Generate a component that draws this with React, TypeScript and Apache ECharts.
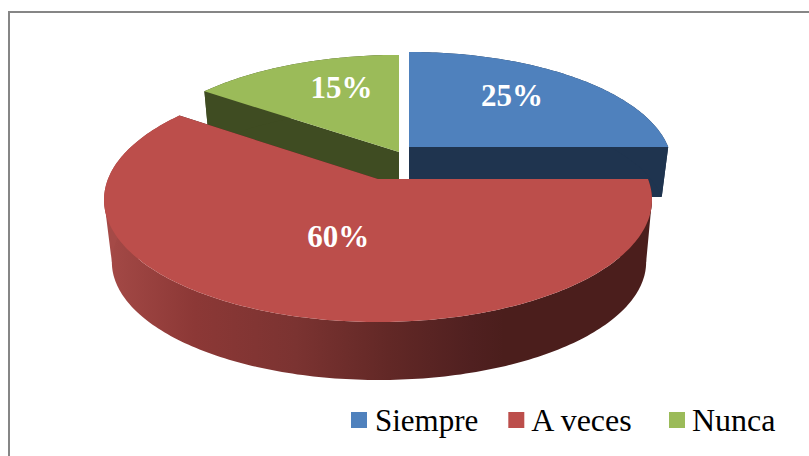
import React, { useEffect, useRef } from "react";
import * as echarts from "echarts";

const categories = ["Siempre", "A veces", "Nunca"];
const shares = [25, 60, 15];
const shareLabels = ["25%", "60%", "15%"];
const topColors = ["#4F81BD", "#BC4E4B", "#9BBB59"];
const wallColors = ["#1F344F", "#4B1E1C", "#3F4C22"];
const drawOrder = [0, 2, 1];

// Exploded-slice projection, indexed like categories.
const origins = [[409, 147], [378, 179], [399, 152]];
const scalesX = [0.96, 1, 0.98];
const scalesY = [0.937, 1, 0.957];
const depths = [50, 63, 50];
const bottomShift = [0, 1, 0];
const labelFractions = [[0.63, 0.73], [0.4, 0.43], [0.55, 0.73]];
const RX = 270, RY = 118.7, K = 0.17;

function project(deg: number, index: number) {
  const t = (deg * Math.PI) / 180;
  const X = Math.sin(t), Y = Math.cos(t);
  const s = 1 / (1 + K * Y);
  return [X * s * RX * scalesX[index], -Y * s * RY * scalesY[index]];
}

function renderSlice(index: number) {
  const total = shares.reduce((a, b) => a + b, 0);
  const before = shares.slice(0, index).reduce((a, b) => a + b, 0);
  const a0 = (before / total) * 360;
  const a1 = ((before + shares[index]) / total) * 360;
  const [ox, oy] = origins[index];
  const top = (p: number[]) => [ox + p[0], oy + p[1]];
  const bottom = (p: number[]) => [
    ox + bottomShift[index] + p[0] * 0.975,
    oy + depths[index] + p[1] * 0.965,
  ];

  const arc: number[][] = [];
  for (let a = a0; a < a1; a += 1) arc.push(project(a, index));
  arc.push(project(a1, index));

  const wallFill =
    index === 1
      ? new echarts.graphic.LinearGradient(0, 0, 1, 0, [
          { offset: 0, color: "#A54A47" },
          { offset: 0.165, color: "#8C3836" },
          { offset: 0.35, color: "#7B3331" },
          { offset: 0.52, color: "#622826" },
          { offset: 0.67, color: "#502020" },
          { offset: 0.73, color: "#4B1E1C" },
          { offset: 1, color: "#4B1E1C" },
        ])
      : wallColors[index];

  const quad = (p: number[]) => ({
    type: "polygon",
    shape: { points: [top([0, 0]), top(p), bottom(p), bottom([0, 0])] },
    style: { fill: wallColors[index] },
  });

  // Silhouette between the widest points of the top and bottom rims.
  const tangentAngle = (Math.acos(-K) * 180) / Math.PI;
  const tangents = [tangentAngle, 360 - tangentAngle]
    .filter((a) => a > a0 && a < a1)
    .map((a) => {
      const p = project(a, index);
      const inner = [p[0] * 0.9, p[1]];
      return {
        type: "polygon",
        shape: { points: [top(p), bottom(p), bottom(inner), top(inner)] },
        style: { fill: a > 180 ? "#A54A47" : wallColors[index] },
      };
    });

  const mid = project((a0 + a1) / 2, index);
  const [fx, fy] = labelFractions[index];
  const labelPos = [ox + mid[0] * fx, oy + mid[1] * fy];

  return {
    type: "group",
    children: [
      quad(arc[0]),
      quad(arc[arc.length - 1]),
      ...tangents,
      {
        type: "polygon",
        shape: { points: [...arc.map(top), ...arc.slice().reverse().map(bottom)] },
        style: { fill: wallFill },
      },
      {
        type: "polygon",
        shape: { points: [top([0, 0]), ...arc.map(top)] },
        style: { fill: topColors[index] },
      },
      {
        type: "text",
        x: labelPos[0],
        y: labelPos[1],
        style: {
          text: shareLabels[index],
          fill: "#FFFFFF",
          font: 'bold 31px "Liberation Serif"',
          align: "center",
          verticalAlign: "middle",
        },
      },
    ],
  };
}

const legendBase = {
  top: 404,
  padding: 0,
  icon: "rect",
  itemWidth: 16,
  itemHeight: 16,
  itemGap: 30,
  selectedMode: false,
};
const legendText = { fontFamily: "Liberation Serif", color: "#000000" };

export default function App() {
  const ref = useRef<HTMLDivElement>(null);
  useEffect(() => {
    document.body.style.margin = "0";
    const chart = echarts.init(ref.current!, undefined, { renderer: "svg" });
    chart.setOption({
      animation: false,
      backgroundColor: "#FFFFFF",
      legend: [
        {
          ...legendBase,
          left: 351,
          data: [
            categories[0],
            { name: categories[1], textStyle: { fontSize: 32, padding: [0, 0, 0, 2] } },
          ],
          textStyle: { ...legendText, fontSize: 31, padding: [0, 0, 0, 3] },
        },
        {
          ...legendBase,
          left: 669,
          data: [categories[2]],
          textStyle: { ...legendText, fontSize: 32, padding: [0, 0, 0, 2] },
        },
      ],
      graphic: [
        { type: "rect", shape: { x: 8, y: 11, width: 801, height: 2 }, style: { fill: "#868686" } },
        { type: "rect", shape: { x: 8, y: 11, width: 2, height: 445 }, style: { fill: "#868686" } },
      ],
      series: drawOrder.map((index) => ({
        type: "custom",
        name: categories[index],
        coordinateSystem: "none",
        silent: true,
        itemStyle: { color: topColors[index] },
        data: [[shares[index]]],
        renderItem: () => renderSlice(index),
      })),
    });
    return () => chart.dispose();
  }, []);
  return <div ref={ref} style={{ width: 809, height: 456 }} />;
}
